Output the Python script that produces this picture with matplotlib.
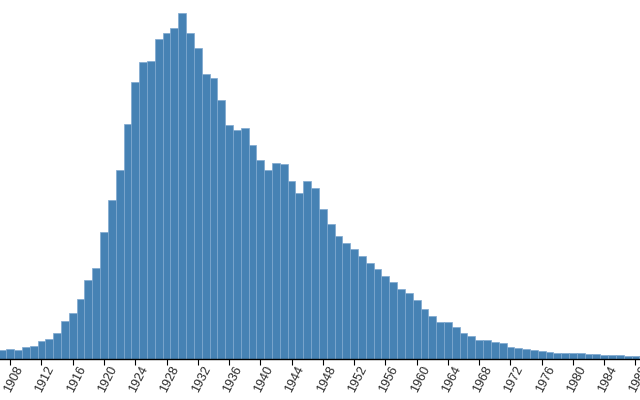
import matplotlib
matplotlib.use("Agg")
import matplotlib.pyplot as plt
import matplotlib.transforms as mtransforms
import numpy as np

years = list(range(1907, 1990))
counts = [
    9.3, 10.3, 9.8, 12.5, 13.3, 18.3, 20.3, 26.8, 38.2, 46.6,      # 1907-1916
    60.1, 79.8, 91.6, 127.0, 159.6, 189.0, 235.3, 277.0, 297.0, 298.3,  # 1917-1926
    320.6, 326.3, 331.6, 346.0, 326.6, 311.3, 285.3, 281.3, 259.5, 234.0,  # 1927-1936
    229.0, 231.0, 214.0, 199.6, 189.0, 196.0, 195.3, 178.6, 166.6, 178.3,  # 1937-1946
    171.6, 150.6, 135.3, 123.3, 116.0, 110.0, 103.0, 96.3, 90.0, 83.6,     # 1947-1956
    77.0, 70.0, 66.3, 59.3, 50.5, 43.3, 37.8, 37.0, 32.5, 26.8,            # 1957-1966
    23.3, 19.5, 19.3, 17.8, 16.0, 12.5, 11.8, 10.3, 9.8, 8.2,              # 1967-1976
    7.1, 6.8, 6.4, 6.1, 6.0, 5.3, 5.0, 4.8, 4.3, 4.0,                      # 1977-1986
    3.8, 3.6, 3.5,                                                          # 1987-1989
]
tick_years = list(range(1908, 1992, 4))
tick_labels = [str(y) for y in tick_years]

fig = plt.figure(figsize=(6.4, 4.0), dpi=100)
ax = fig.add_axes([0.0, (400 - 359.3) / 400, 1.0, 359.3 / 400])

ax.bar(years, counts, width=1.0, color="#4682b4", edgecolor="#7fa8cf",
       linewidth=0.5, align="center")

ax.set_xlim(1908 - 10.2 / 7.816, 1908 + (640 - 10.2) / 7.816)
ax.set_ylim(0, 359.3)

for s in ["top", "right", "left"]:
    ax.spines[s].set_visible(False)
ax.spines["bottom"].set_color("black")
ax.spines["bottom"].set_linewidth(1.0)
ax.yaxis.set_visible(False)

ax.set_xticks(tick_years)
ax.set_xticklabels(tick_labels, rotation=63, ha="right", va="center",
                   rotation_mode="anchor", fontsize=9,
                   fontfamily="Liberation Sans", color="#2a2a2a")
ax.tick_params(axis="x", length=4.3, width=0.8, color="black", pad=0)

offset = mtransforms.ScaledTranslation(10 / 100, -1.5 / 100, fig.dpi_scale_trans)
for lab in ax.get_xticklabels():
    lab.set_transform(lab.get_transform() + offset)

fig.savefig("out.png", dpi=100)
